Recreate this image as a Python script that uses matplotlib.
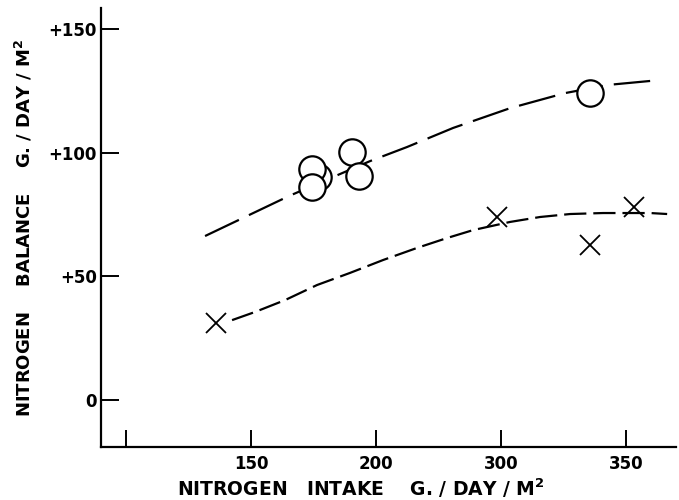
import numpy as np
import matplotlib
matplotlib.use("Agg")
from matplotlib import pyplot as plt

# nitrogen intake (g/day/m2) vs nitrogen balance (g/day/m2)
# first circle is the one mostly hidden behind the pair at ~175
circle_intake = [176.8, 174.5, 174.5, 190.4, 193.2, 335.6]
circle_balance = [90.2, 93.4, 86.0, 100.3, 90.6, 124.0]

cross_intake = [136.0, 297.0, 335.6, 353.2]
cross_balance = [31.0, 74.0, 62.7, 78.0]

# hand drawn fitted curves
upper_intake = [131.6, 165.2, 197.6, 224.8, 261.6, 303.6, 325.6, 342.8, 359.6]
upper_balance = [66.3, 82.5, 96.6, 102.3, 110.0, 118.0, 124.1, 127.4, 129.0]

lower_intake = [142.4, 151.6, 163.6, 176.4, 189.6, 205.6, 232.8, 256.8, 277.6,
                303.6, 315.6, 327.6, 340.8, 359.6, 366.4]
lower_balance = [32.3, 35.6, 40.4, 46.5, 51.4, 56.6, 61.5, 65.5, 68.7,
                 72.0, 74.0, 75.2, 75.6, 75.6, 75.2]

x_ticks = [100, 150, 200, 300, 350]
x_ticklabels = ['', '150', '200', '300', '350']
y_ticks = [0, 50, 100, 150]
y_ticklabels = ['0', '+50', '+100', '+150']

# the original axis puts its ticks at equal spacing although the
# labels jump from 200 to 300, so use a piecewise linear scale
scale_vals = [50, 100, 150, 200, 300, 350, 400]
scale_pos = [-1, 0, 1, 2, 3, 4, 5]


def forward(x):
    return np.interp(x, scale_vals, scale_pos)


def inverse(p):
    return np.interp(p, scale_pos, scale_vals)


plt.rcParams['lines.scale_dashes'] = False
plt.rcParams['font.family'] = 'DejaVu Sans'

fig = plt.figure(figsize=(6.79, 5.00), dpi=100)
ax = fig.add_axes([0.1488, 0.106, 0.847, 0.878])
ax.set_xscale('function', functions=(forward, inverse))

ax.plot(upper_intake, upper_balance, color='black', lw=1.6,
        dashes=(27, 8), solid_capstyle='butt')
ax.plot(lower_intake, lower_balance, color='black', lw=1.6,
        dashes=(16, 5), solid_capstyle='butt')

# draw circles one by one so the later ones sit on top
for cx, cy in zip(circle_intake, circle_balance):
    ax.plot(cx, cy, 'o', ms=19, mfc='white', mec='black', mew=1.6,
            linestyle='none', zorder=3)
ax.plot(cross_intake, cross_balance, 'x', ms=15, mec='black',
        mew=1.3, linestyle='none', zorder=3)

ax.set_xlim(90, 370)
ax.set_ylim(-19, 158.5)

ax.set_xticks(x_ticks)
ax.set_xticklabels(x_ticklabels)
ax.set_yticks(y_ticks)
ax.set_yticklabels(y_ticklabels)
ax.minorticks_off()

ax.spines['top'].set_visible(False)
ax.spines['right'].set_visible(False)
for side in ['left', 'bottom']:
    ax.spines[side].set_linewidth(1.6)

ax.tick_params(axis='x', direction='in', length=12, width=1.4, pad=6,
               labelsize=12)
ax.tick_params(axis='y', direction='in', length=13, width=1.4, pad=3,
               labelsize=12)
for lab in ax.get_xticklabels() + ax.get_yticklabels():
    lab.set_fontweight('bold')

ax.set_xlabel(r'NITROGEN   INTAKE    G. / DAY / M$^{\mathbf{2}}$',
              fontsize=13.5, fontweight='bold')
ax.xaxis.set_label_coords(0.452, -0.068)
ax.set_ylabel(r'NITROGEN    BALANCE    G. / DAY / M$^{\mathbf{2}}$',
              fontsize=13, fontweight='bold', labelpad=10)

fig.savefig('out.png', dpi=100)
